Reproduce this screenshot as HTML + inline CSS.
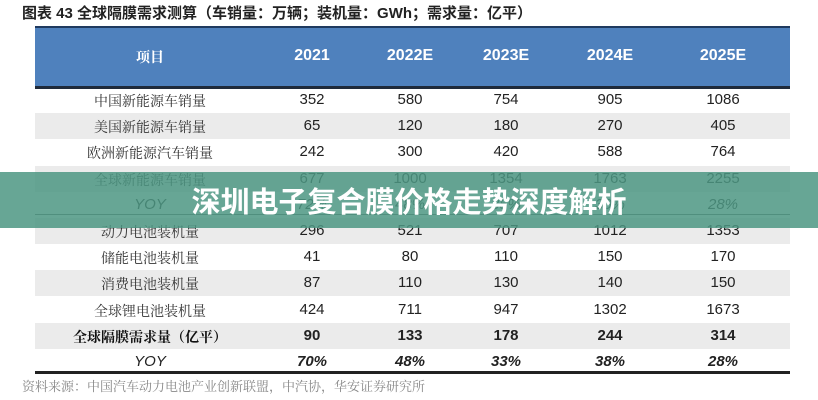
<!DOCTYPE html>
<html><head><meta charset="utf-8"><style>
body{margin:0;width:818px;height:400px;background:#fff;position:relative;overflow:hidden;font-family:"Liberation Sans","Noto Sans CJK SC",sans-serif;}
.t{position:absolute;left:22px;top:2px;font-size:15px;font-weight:bold;color:#222;font-family:"Liberation Sans","Noto Sans CJK SC",sans-serif;}
.hd{position:absolute;left:35px;top:26px;width:755px;height:58px;background:#4f81bd;border-top:2px solid #1f3a5f;border-bottom:3px solid #1f2a3a;}
.c{position:absolute;transform:translateX(-50%);white-space:nowrap;}
.row{position:absolute;left:35px;width:755px;height:26px;}
.g{background:#ebebeb;}
.txt{font-size:15px;color:#222;}
.lab{font-family:"Noto Serif CJK SC",serif;font-size:14px;color:#333;}
.ban{position:absolute;left:0;top:172px;width:818px;height:56px;background:rgba(76,150,130,0.85);color:#fff;font-size:29px;font-weight:bold;text-align:center;line-height:56px;font-family:"Noto Sans CJK SC",sans-serif;letter-spacing:0px;}
</style></head><body>
<div class="t">图表 43 全球隔膜需求测算（车销量：万辆；装机量：GWh；需求量：亿平）</div>
<div class="hd"></div>
<div class="c" style="left:150px;top:47px;color:#fff;font-weight:bold;font-size:14px;font-family:'Noto Serif CJK SC',serif">项目</div>
<div class="c" style="left:312px;top:47px;color:#fff;font-weight:bold;font-size:16px">2021</div>
<div class="c" style="left:410px;top:47px;color:#fff;font-weight:bold;font-size:16px">2022E</div>
<div class="c" style="left:506px;top:47px;color:#fff;font-weight:bold;font-size:16px">2023E</div>
<div class="c" style="left:610px;top:47px;color:#fff;font-weight:bold;font-size:16px">2024E</div>
<div class="c" style="left:723px;top:47px;color:#fff;font-weight:bold;font-size:16px">2025E</div>
<div id="rows"></div>
<div style="position:absolute;left:35px;top:214px;width:755px;height:1px;background:#666"></div>
<div style="position:absolute;left:35px;top:371px;width:755px;height:3px;background:#222"></div>
<div style="position:absolute;left:22px;top:376px;font-size:13px;color:#888;font-family:'Noto Serif CJK SC',serif">资料来源：中国汽车动力电池产业创新联盟，中汽协，华安证券研究所</div>
<div class="ban">深圳电子复合膜价格走势深度解析</div>
<script>
var d=[["中国新能源车销量","352","580","754","905","1086",0],
["美国新能源车销量","65","120","180","270","405",1],
["欧洲新能源汽车销量","242","300","420","588","764",0],
["全球新能源车销量","677","1000","1354","1763","2255",1],
["YOY","72%","48%","35%","30%","28%",0,"i"],
["动力电池装机量","296","521","707","1012","1353",1],
["储能电池装机量","41","80","110","150","170",0],
["消费电池装机量","87","110","130","140","150",1],
["全球锂电池装机量","424","711","947","1302","1673",0],
["全球隔膜需求量（亿平）","90","133","178","244","314",1,"b"],
["YOY","70%","48%","33%","38%","28%",0,"bi"]];
var xs=[150,312,410,506,610,723],h="";
d.forEach(function(r,i){var y=87+i*26.2;
h+='<div class="row'+(r[6]?' g':'')+'" style="top:'+y+'px"></div>';
for(var j=0;j<6;j++){var st='top:'+(y+4)+'px;left:'+xs[j]+'px;';
var cls=j==0?'lab':'txt';
if(r[7]=="b"){st+='font-weight:bold;';}
if(r[7]=="i"&&j>0||r[7]=="bi"&&j>0){st+='font-style:italic;';}
if(r[7]=="bi"&&j>0)st+='font-weight:bold;';
if(j==0&&(r[0]=="YOY")){cls='txt';st+='font-style:italic;';}
if(j==0&&r[7]=="b")st+='font-weight:bold;color:#111;';
h+='<div class="c '+cls+'" style="'+st+'">'+r[j]+'</div>';}
});
document.getElementById('rows').innerHTML=h;
</script>
</body></html>
